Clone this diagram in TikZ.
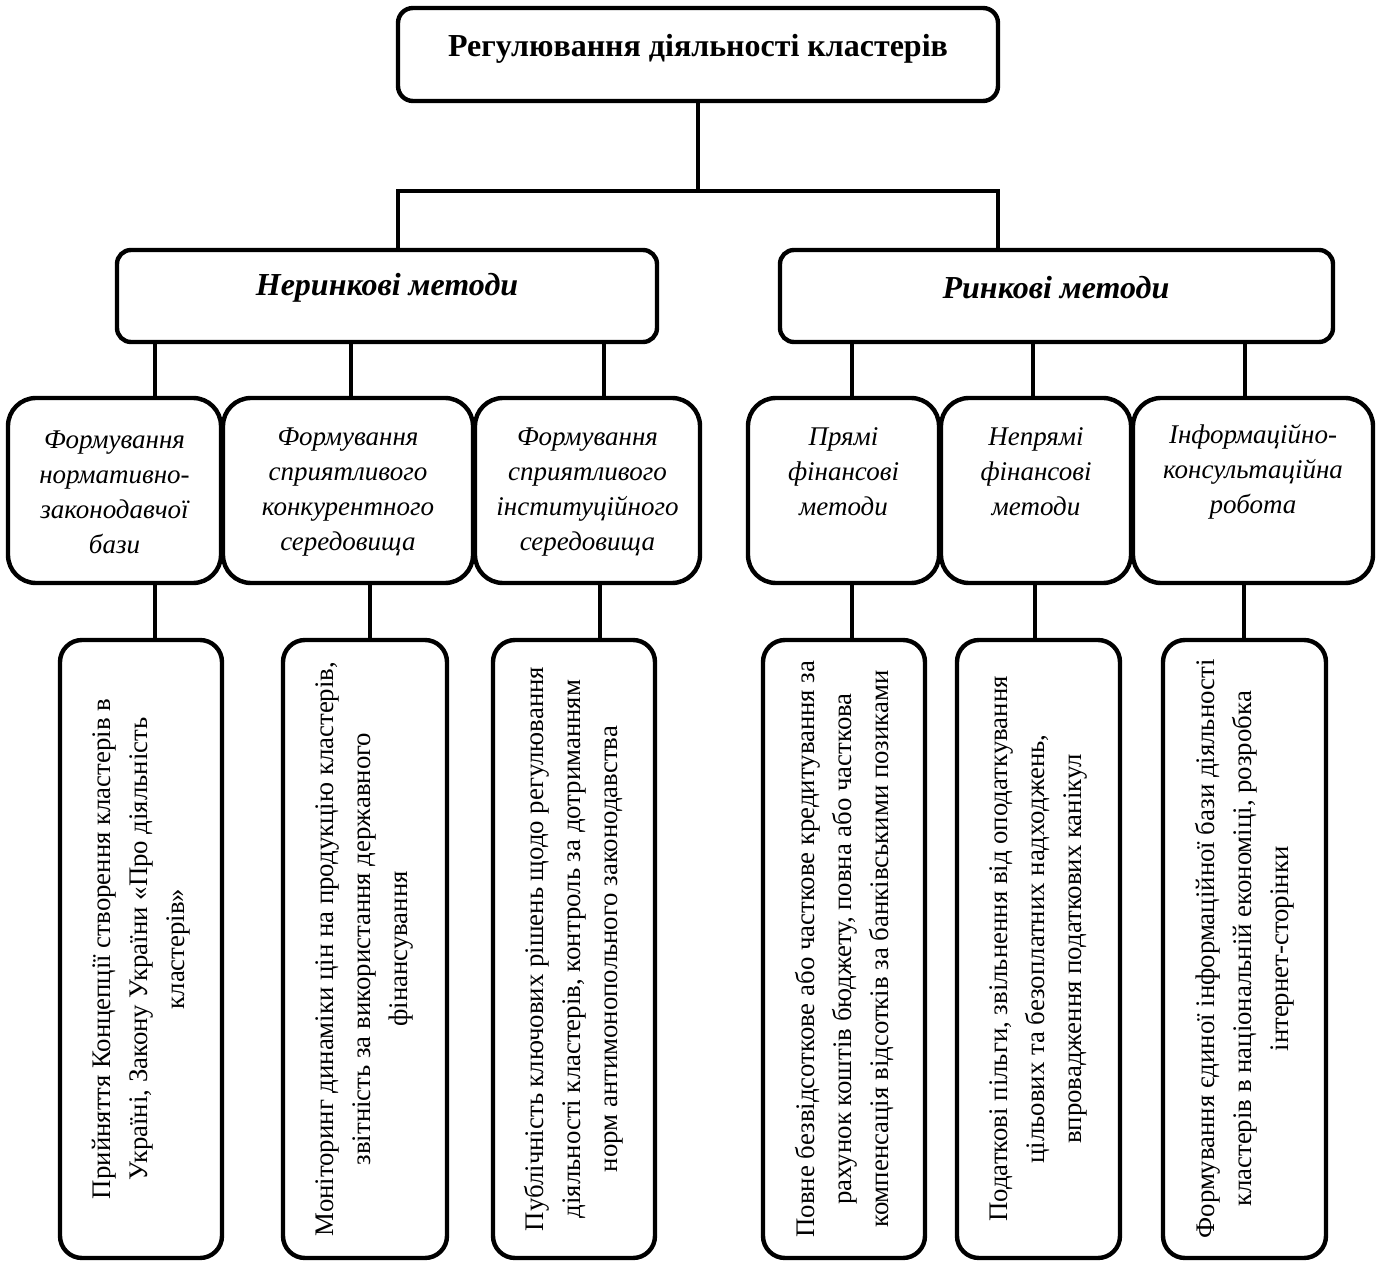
\documentclass[tikz,border=0pt]{standalone}
\usepackage{fontspec}
\setmainfont{Liberation Serif}
\usetikzlibrary{fit}
\begin{document}
\begin{tikzpicture}[x=0.5pt,y=-0.5pt,
  frame/.style={draw, line width=2.2pt, inner sep=0pt, outer sep=0pt},
  topbox/.style={frame, rounded corners=7.5pt},
  groupbox/.style={frame, rounded corners=7pt},
  methodbox/.style={frame, rounded corners=14pt},
  measurebox/.style={frame, rounded corners=11pt},
  link/.style={line width=2.2pt},
  titletext/.style={font=\fontsize{16}{19}\selectfont\bfseries, inner sep=0pt},
  grouptext/.style={font=\fontsize{16}{19}\selectfont\bfseries\itshape, inner sep=0pt},
  methodtext/.style={font=\fontsize{13.5}{17.5}\selectfont\itshape, align=center, inner sep=0pt},
  measuretext/.style={font=\fontsize{13.4}{18.5}\selectfont, align=center, rotate=90, inner sep=0pt}]
\useasboundingbox (0,0) rectangle (1383,1262);

% root
\node[topbox, fit={(398,8) (998,101)}] (top) {};
\node[titletext] (toptext) at (698,49) {Регулювання діяльності кластерів};

% two groups of methods
\node[groupbox, fit={(117,250) (657,342)}] (lm) {};
\node[grouptext] (lmtext) at (387,288) {Неринкові методи};
\node[groupbox, fit={(780,250) (1333,342)}] (rm) {};
\node[grouptext] (rmtext) at (1056,288) {Ринкові методи};

% methods
\node[methodbox, fit={(8,398) (221,583)}] (r1) {};
\node[methodbox, fit={(223,398) (473,583)}] (r2) {};
\node[methodbox, fit={(475,398) (700,583)}] (r3) {};
\node[methodbox, fit={(748,398) (939,583)}] (r4) {};
\node[methodbox, fit={(941,398) (1131,583)}] (r5) {};
\node[methodbox, fit={(1133,398) (1373,583)}] (r6) {};

\node[methodtext] (r1text) at (114.5,492) {Формування\\нормативно-\\законодавчої\\бази};
\node[methodtext] (r2text) at (348,492) {Формування\\сприятливого\\конкурентного\\середовища};
\node[methodtext] (r3text) at (587.5,492) {Формування\\сприятливого\\інституційного\\середовища};
\node[methodtext] (r4text) at (843.5,472) {Прямі\\фінансові\\методи};
\node[methodtext] (r5text) at (1036,472) {Непрямі\\фінансові\\методи};
\node[methodtext] (r6text) at (1253,472) {Інформаційно-\\консультаційна\\робота};

% measures
\node[measurebox, fit={(60,640) (222,1258)}] (b1) {};
\node[measurebox, fit={(283,640) (447,1258)}] (b2) {};
\node[measurebox, fit={(493,640) (655,1258)}] (b3) {};
\node[measurebox, fit={(763,640) (925,1258)}] (b4) {};
\node[measurebox, fit={(957,640) (1120,1258)}] (b5) {};
\node[measurebox, fit={(1163,640) (1326,1258)}] (b6) {};

\node[measuretext] (b1text) at (b1.center) {Прийняття Концепції створення кластерів в\\Україні, Закону України «Про діяльність\\кластерів»};
\node[measuretext] (b2text) at (b2.center) {Моніторинг динаміки цін на продукцію кластерів,\\звітність за використання державного\\фінансування};
\node[measuretext] (b3text) at (b3.center) {Публічність ключових рішень щодо регулювання\\діяльності кластерів, контроль за дотриманням\\норм антимонопольного законодавства};
\node[measuretext] (b4text) at (b4.center) {Повне безвідсоткове або часткове кредитування за\\рахунок коштів бюджету, повна або часткова\\компенсація відсотків за банківськими позиками};
\node[measuretext] (b5text) at (b5.center) {Податкові пільги, звільнення від оподаткування\\цільових та безоплатних надходжень,\\впровадження податкових канікул};
\node[measuretext] (b6text) at (b6.center) {Формування єдиної інформаційної бази діяльності\\кластерів в національній економіці, розробка\\інтернет-сторінки};

% connectors
\coordinate (jl) at (398,191);
\coordinate (jr) at (998,191);
\draw[link] (top.south) -- (top.south |- jl);
\draw[link] (jl |- lm.north) -- (jl) -- (jr) -- (jr |- rm.north);

\foreach \xx/\a/\b in {155/lm/r1, 351/lm/r2, 604/lm/r3, 852/rm/r4, 1033/rm/r5, 1245/rm/r6}
  \draw[link] (\xx,0 |- \a.south) -- (\xx,0 |- \b.north);

\foreach \xx/\a/\b in {155/r1/b1, 370/r2/b2, 600/r3/b3, 852/r4/b4, 1035/r5/b5, 1244/r6/b6}
  \draw[link] (\xx,0 |- \a.south) -- (\xx,0 |- \b.north);
\end{tikzpicture}
\end{document}
